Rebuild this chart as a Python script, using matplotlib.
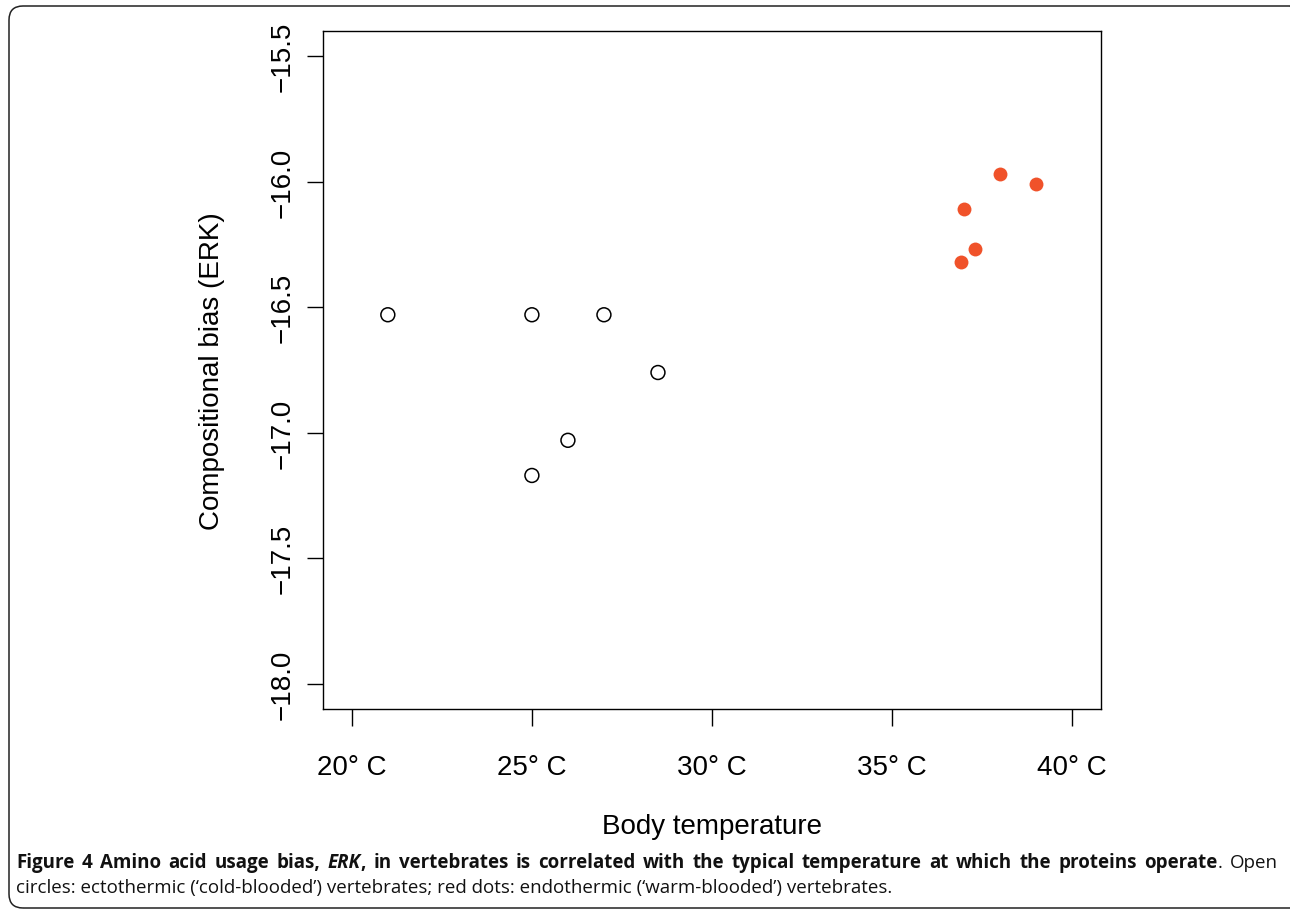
import matplotlib
matplotlib.use("Agg")
import matplotlib.pyplot as plt
from matplotlib.patches import FancyBboxPatch

# data
cold_temp = [21.0, 25.0, 27.0, 28.5, 26.0, 25.0]
cold_erk = [-16.53, -16.53, -16.53, -16.76, -17.03, -17.17]
warm_temp = [38.0, 39.0, 37.0, 37.3, 36.9]
warm_erk = [-15.97, -16.01, -16.11, -16.27, -16.32]

xticks = [20, 25, 30, 35, 40]
xticklabels = ["20\u00b0 C", "25\u00b0 C", "30\u00b0 C", "35\u00b0 C", "40\u00b0 C"]
yticks = [-18.0, -17.5, -17.0, -16.5, -16.0, -15.5]
yticklabels = ["\u221218.0", "\u221217.5", "\u221217.0", "\u221216.5", "\u221216.0", "\u221215.5"]

W, H = 1290, 912
fig = plt.figure(figsize=(W / 100, H / 100), dpi=100)
plt.rcParams['font.family'] = ['Liberation Sans', 'DejaVu Sans']

# axes box in pixels: left 323, right 1101, top 32, bottom 710
ax = fig.add_axes([323 / W, 1 - 710 / H, (1101 - 323) / W, (710 - 32) / H])
ax.scatter(cold_temp, cold_erk, s=100, facecolors='none', edgecolors='black', linewidths=1.1, zorder=3)
ax.scatter(warm_temp, warm_erk, s=100, color='#F0522A', linewidths=0, zorder=3)

ax.set_xlim(19.2, 40.8)
ax.set_ylim(-18.1, -15.4)
ax.set_xticks(xticks)
ax.set_xticklabels(xticklabels, fontsize=20)
ax.set_yticks(yticks)
ax.set_yticklabels(yticklabels, fontsize=20, rotation=90, va='center')
ax.tick_params(axis='x', length=12, width=1.0, pad=20.5, direction='out')
ax.tick_params(axis='y', length=11.5, width=1.0, pad=8, direction='out')
for sp in ax.spines.values():
    sp.set_linewidth(1.0)

ax.set_xlabel("Body temperature", fontsize=20, va='center')
ax.xaxis.set_label_coords(0.5, -(827 - 710) / 678)
ax.set_ylabel("Compositional bias (ERK)", fontsize=20, va='center')
ax.yaxis.set_label_coords(-(323 - 212) / 778, 0.5)

# rounded frame round the figure and caption
frame = FancyBboxPatch((9, 3), 1295, 902, boxstyle="round,pad=0,rounding_size=14",
                       transform=None, fill=False, edgecolor='#222222', linewidth=1.1)
fig.patches.append(frame)

# caption, first line justified
cap_font = ['Open Sans', 'DejaVu Sans']
bold = dict(weight='bold', style='normal')
bital = dict(weight='bold', style='italic')
norm = dict(weight='normal', style='normal')

line1 = [[("Figure", bold)], [("4", bold)], [("Amino", bold)], [("acid", bold)],
         [("usage", bold)], [("bias,", bold)], [("ERK", bital), (",", bold)],
         [("in", bold)], [("vertebrates", bold)], [("is", bold)], [("correlated", bold)],
         [("with", bold)], [("the", bold)], [("typical", bold)], [("temperature", bold)],
         [("at", bold)], [("which", bold)], [("the", bold)], [("proteins", bold)],
         [("operate", bold), (".", norm)], [("Open", norm)]]
line2 = "circles: ectothermic (\u2018cold-blooded\u2019) vertebrates; red dots: endothermic (\u2018warm-blooded\u2019) vertebrates."

renderer = fig.canvas.get_renderer()
x0, x1 = 16, 1278
y1, y2 = 868, 893

# size the caption so the second line ends where it does in the original
probe = fig.text(0, 0, line2, fontsize=12, family=cap_font)
cap_size = 12 * (887 - x0) / probe.get_window_extent(renderer).width
probe.remove()


def put(x, y, s, props):
    t = fig.text(x / W, 1 - y / H, s, fontsize=cap_size, family=cap_font,
                 ha='left', va='baseline', color='#111111', **props)
    return t.get_window_extent(renderer).width


def word_width(word):
    total = 0
    for s, props in word:
        t = fig.text(0, 0, s, fontsize=cap_size, family=cap_font, **props)
        total += t.get_window_extent(renderer).width
        t.remove()
    return total


widths = [word_width(w) for w in line1]
gap = (x1 - x0 - sum(widths)) / (len(line1) - 1)
x = x0
for w, wd in zip(line1, widths):
    xx = x
    for s, props in w:
        xx += put(xx, y1, s, props)
    x += wd + gap

put(x0, y2, line2, norm)

fig.savefig("out.png", dpi=100)
